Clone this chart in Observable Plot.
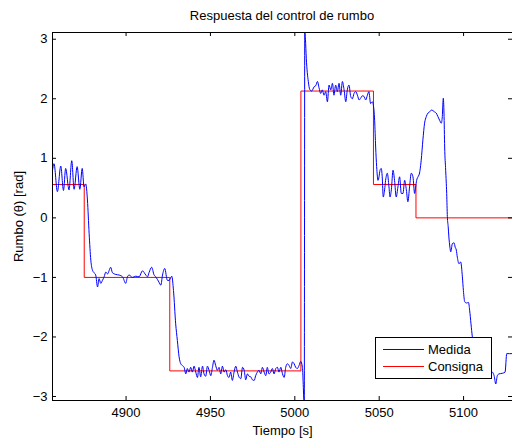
<!DOCTYPE html>
<html>
<head>
<meta charset="utf-8">
<script src="https://cdn.jsdelivr.net/npm/d3@7"></script>
<script src="https://cdn.jsdelivr.net/npm/@observablehq/plot@0.6"></script>
<style>
  body { margin: 0; background: #fff; font-family: "Liberation Sans", Arial, sans-serif; }
  #wrap { position: relative; width: 512px; height: 438px; overflow: hidden; background: #fff; }
  #title { position: absolute; left: 52px; width: 460px; top: 9px; text-align: center; font-size: 13px; line-height: 13px; color: #000; }
  #legend { position: absolute; left: 375px; top: 337px; width: 117px; height: 42px; box-sizing: border-box; border: 1px solid #000; background: #fff; }
  #legend .sw { position: absolute; left: 7px; width: 41px; height: 0; border-top: 1px solid; }
  #legend .lb { position: absolute; left: 52px; font-size: 13px; line-height: 13px; color: #000; white-space: nowrap; }
</style>
</head>
<body>
<div id="wrap">
  <div id="chart"></div>
  <div id="title"></div>
  <div id="legend"></div>
</div>
<script>
const titleText = "Respuesta del control de rumbo";
const xLabel = "Tiempo [s]";
const yLabel = "Rumbo (θ) [rad]";
const seriesNames = ["Medida", "Consigna"];
const seriesColors = ["#0000ff", "#ff0000"];

const xTicks = [4900, 4950, 5000, 5050, 5100];
const yTicks = [-3, -2, -1, 0, 1, 2, 3];

// Consigna (set point), step function
const consignaT = [4856.4, 4875.2, 4925.9, 5003.6, 5046.6, 5071.8, 5129.0];
const consignaV = [0.56, -1.0, -2.57, 2.13, 0.56, 0.0, 0.0];

// Medida (measured heading)
const medidaT = [
  4856.4, 4857.3, 4859.3, 4861.3, 4862.9, 4864.2, 4866.2, 4867.8, 4869.2, 4871.0, 4872.6, 4874.0, 4875.1, 4876.1,
  4877.1, 4878.1, 4879.1, 4880.1, 4881.0, 4882.0, 4883.1, 4884.0, 4885.0, 4886.0, 4887.0, 4888.0, 4889.0, 4890.9,
  4891.9, 4893.9, 4895.9, 4897.9, 4899.8, 4900.8, 4901.8, 4903.8, 4905.7, 4907.7, 4909.7, 4911.7, 4912.7, 4913.6,
  4915.2, 4916.6, 4917.6, 4919.5, 4920.6, 4921.6, 4922.9, 4924.5, 4925.5, 4927.1, 4928.1, 4929.4, 4930.4, 4931.4,
  4932.4, 4933.4, 4934.4, 4935.4, 4936.3, 4937.3, 4938.3, 4939.3, 4940.3, 4941.3, 4942.3, 4943.2, 4944.2, 4945.3,
  4946.2, 4947.2, 4948.2, 4949.2, 4950.2, 4951.2, 4952.1, 4953.1, 4954.1, 4955.1, 4956.1, 4957.1, 4958.1, 4959.1,
  4960.1, 4961.0, 4962.0, 4963.0, 4964.0, 4965.0, 4966.0, 4966.9, 4968.0, 4969.0, 4970.0, 4970.9, 4971.9, 4972.9,
  4973.9, 4974.9, 4975.9, 4976.8, 4977.8, 4978.8, 4979.8, 4980.8, 4981.8, 4982.8, 4983.7, 4984.7, 4985.7, 4986.7,
  4987.7, 4988.7, 4989.7, 4990.6, 4991.7, 4992.7, 4993.7, 4994.6, 4995.6, 4996.6, 4997.6, 4998.6, 4999.6, 5000.5,
  5001.5, 5002.5, 5003.5, 5004.5, 5005.6, 5005.9, 5006.3, 5006.8, 5008.0, 5008.8, 5010.0, 5011.4, 5012.4, 5013.4,
  5014.4, 5015.3, 5016.3, 5017.3, 5018.3, 5019.3, 5020.3, 5021.3, 5022.3, 5023.2, 5024.2, 5025.2, 5026.2, 5027.2,
  5028.2, 5029.2, 5030.2, 5031.1, 5032.1, 5033.1, 5034.1, 5035.1, 5036.1, 5037.1, 5038.1, 5039.0, 5040.0, 5041.0,
  5042.0, 5043.0, 5043.9, 5044.9, 5045.9, 5046.5, 5047.3, 5047.9, 5048.5, 5049.3, 5049.9, 5050.5, 5051.2, 5051.8,
  5052.4, 5053.2, 5053.8, 5054.8, 5055.8, 5056.4, 5057.2, 5058.2, 5059.1, 5060.1, 5061.1, 5062.1, 5063.1, 5064.1,
  5065.1, 5066.1, 5067.0, 5068.0, 5069.0, 5070.0, 5071.0, 5071.6, 5072.2, 5073.0, 5073.6, 5074.2, 5074.9, 5075.9,
  5076.9, 5077.9, 5078.9, 5079.9, 5080.9, 5081.9, 5082.8, 5083.8, 5084.8, 5085.8, 5086.8, 5087.4, 5088.0, 5088.4,
  5088.8, 5089.4, 5090.0, 5090.4, 5090.9, 5091.3, 5091.9, 5092.4, 5093.4, 5094.4, 5095.0, 5095.7, 5096.3, 5097.3,
  5098.3, 5099.3, 5099.9, 5100.7, 5101.7, 5102.9, 5103.6, 5104.4, 5105.2, 5107.0, 5110.0, 5114.0, 5117.1, 5118.1,
  5119.1, 5120.0, 5121.0, 5123.0, 5124.6, 5125.6, 5129.0
];
const medidaV = [
  0.80, 0.91, 0.44, 0.87, 0.46, 0.83, 0.47, 0.96, 0.48, 0.86, 0.48, 0.83, 0.52, 0.57,
  0.30, -0.26, -0.71, -0.88, -0.92, -0.96, -1.16, -1.02, -1.10, -1.05, -0.99, -0.91, -0.94, -0.83,
  -0.92, -0.95, -0.96, -0.99, -1.10, -0.99, -0.96, -1.00, -0.98, -0.99, -0.89, -0.96, -0.99, -0.92,
  -0.83, -0.96, -0.99, -1.08, -1.13, -0.96, -0.85, -1.05, -1.05, -0.98, -1.22, -1.78, -2.06, -2.33,
  -2.45, -2.48, -2.51, -2.62, -2.53, -2.59, -2.51, -2.59, -2.49, -2.59, -2.68, -2.51, -2.67, -2.49,
  -2.62, -2.66, -2.49, -2.56, -2.65, -2.51, -2.39, -2.48, -2.56, -2.51, -2.62, -2.49, -2.59, -2.55,
  -2.65, -2.68, -2.59, -2.73, -2.59, -2.49, -2.59, -2.67, -2.70, -2.51, -2.56, -2.72, -2.62, -2.66,
  -2.67, -2.72, -2.73, -2.65, -2.59, -2.56, -2.62, -2.51, -2.59, -2.65, -2.51, -2.62, -2.59, -2.53,
  -2.62, -2.53, -2.51, -2.59, -2.51, -2.62, -2.68, -2.51, -2.45, -2.48, -2.53, -2.42, -2.45, -2.51,
  -2.53, -2.48, -2.41, -2.51, -3.14, 3.14, 3.00, 2.68, 2.29, 2.16, 2.13, 2.20, 2.22, 2.29,
  2.18, 2.09, 2.15, 2.06, 2.12, 1.95, 2.23, 2.15, 2.26, 2.06, 2.23, 2.12, 2.26, 2.06,
  2.29, 2.15, 1.95, 2.15, 2.23, 2.04, 2.00, 2.09, 2.12, 2.06, 1.98, 2.01, 2.05, 2.04,
  1.98, 2.06, 2.12, 1.92, 1.95, 1.90, 1.64, 1.19, 0.86, 0.63, 0.69, 0.80, 0.83, 0.69,
  0.35, 0.47, 0.63, 0.75, 0.52, 0.35, 0.47, 0.80, 0.63, 0.35, 0.52, 0.69, 0.41, 0.41,
  0.63, 0.47, 0.27, 0.52, 0.75, 0.69, 0.41, 0.52, 0.63, 0.69, 0.72, 0.80, 0.97, 1.31,
  1.59, 1.70, 1.76, 1.78, 1.81, 1.80, 1.78, 1.76, 1.70, 1.64, 1.59, 1.70, 2.01, 1.76,
  1.19, 0.80, 0.41, 0.02, -0.15, -0.32, -0.49, -0.57, -0.43, -0.42, -0.49, -0.54, -0.66, -0.77,
  -0.74, -0.99, -1.22, -1.41, -1.43, -1.42, -1.55, -1.78, -2.00, -2.30, -2.50, -2.55, -2.59, -2.65,
  -2.79, -2.65, -2.62, -2.61, -2.59, -2.28, -2.28
];

const medida = medidaT.map((t, i) => ({t, v: medidaV[i]}));
const consigna = consignaT.map((t, i) => ({t, v: consignaV[i]}));

const W = 512, H = 438, mL = 52, mR = 0, mT = 32, mB = 38;
const frameW = W - mL - mR, frameH = H - mT - mB, tickLen = 4;

const chart = Plot.plot({
  width: W, height: H,
  marginLeft: mL, marginRight: mR, marginTop: mT, marginBottom: mB,
  style: {fontFamily: "'Liberation Sans', Arial, sans-serif", fontSize: "13px", color: "#000", background: "#fff", overflow: "visible"},
  x: {domain: [4856.4, 5129.0], ticks: xTicks, tickFormat: d3.format("d"), tickSize: 0, tickPadding: 7,
      label: xLabel, labelAnchor: "center", labelOffset: 34, labelArrow: "none"},
  y: {domain: [-3.067, 3.113], ticks: yTicks, tickFormat: d3.format("d"), tickSize: 0, tickPadding: 5,
      label: yLabel, labelAnchor: "center", labelOffset: 39, labelArrow: "none"},
  marks: [
    Plot.line(consigna, {x: "t", y: "v", curve: "step-after", stroke: seriesColors[1], strokeWidth: 1, clip: true}),
    Plot.line(medida, {x: "t", y: "v", curve: "monotone-x", stroke: seriesColors[0], strokeWidth: 1, clip: true}),
    Plot.ruleX(xTicks, {x: d => d, insetTop: frameH - tickLen, stroke: "#000"}),
    Plot.ruleX(xTicks, {x: d => d, insetBottom: frameH - tickLen, stroke: "#000"}),
    Plot.ruleY(yTicks, {y: d => d, insetRight: frameW - tickLen, stroke: "#000"}),
    Plot.ruleY(yTicks, {y: d => d, insetLeft: frameW - tickLen, stroke: "#000"}),
    Plot.frame({stroke: "#000", strokeWidth: 1})
  ]
});
document.getElementById("chart").appendChild(chart);
document.getElementById("title").textContent = titleText;

const legend = document.getElementById("legend");
const rowTops = [11, 28];
const labelTops = [5, 22];
seriesNames.forEach((name, i) => {
  const sw = document.createElement("div");
  sw.className = "sw";
  sw.style.top = rowTops[i] + "px";
  sw.style.borderTopColor = seriesColors[i];
  legend.appendChild(sw);
  const lb = document.createElement("div");
  lb.className = "lb";
  lb.style.top = labelTops[i] + "px";
  lb.textContent = name;
  legend.appendChild(lb);
});
</script>
</body>
</html>
